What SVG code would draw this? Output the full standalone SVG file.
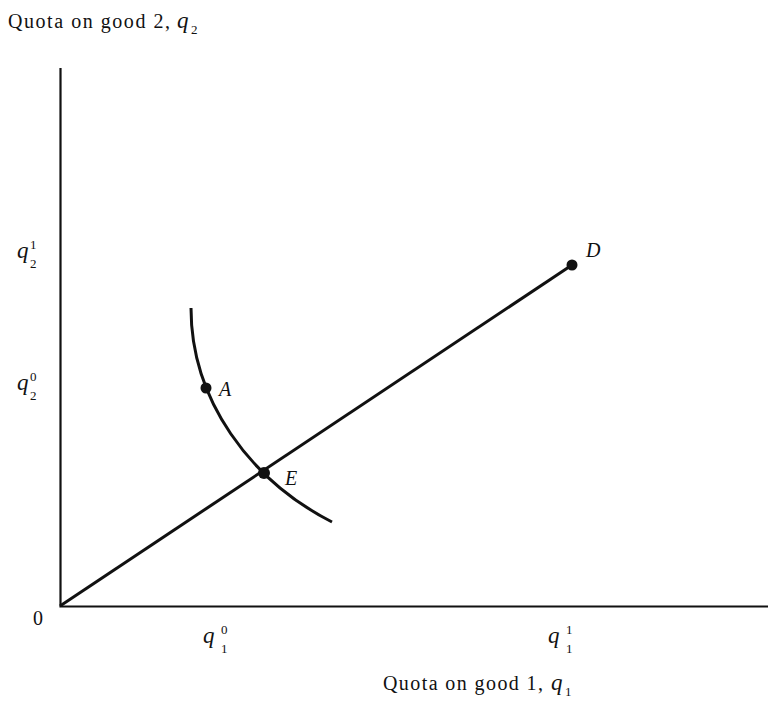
<svg xmlns="http://www.w3.org/2000/svg" width="770" height="702" viewBox="0 0 770 702">
<style>
.t{font-family:"Liberation Serif","Times New Roman",serif;font-size:20px;fill:#111}
.i{font-style:italic}
.q{font-style:italic;font-size:23px}
.s{font-size:13px}
.ln{fill:none;stroke:#111;stroke-width:3}
.ax{fill:none;stroke:#111;stroke-width:2.2}
</style>
<rect width="770" height="702" fill="#fff"/>
<g id="axes">
<path class="ax" d="M60.5,68 V606.5 H768"/>
</g>
<g id="connectors">
<path class="ln" d="M60,606 L572,265"/>
<path class="ln" d="M191,308 C191,400 250,480 332,522"/>
</g>
<g id="D"><circle cx="572" cy="265" r="5.5" fill="#111"/><text class="t i" x="586" y="257">D</text></g>
<g id="A"><circle cx="206" cy="388" r="5.5" fill="#111"/><text class="t i" x="219" y="396">A</text></g>
<g id="E"><circle cx="264" cy="473" r="6" fill="#111"/><text class="t i" x="285" y="485">E</text></g>
<g id="labels">
<text class="t" x="8" y="28" textLength="162" lengthAdjust="spacing">Quota on good 2,</text>
<text class="t q" x="177" y="28">q</text><text class="t s" x="191" y="34">2</text>
<text class="t" x="383" y="690" textLength="160" lengthAdjust="spacing">Quota on good 1,</text>
<text class="t q" x="551" y="690">q</text><text class="t s" x="565" y="696">1</text>
<text class="t" x="33" y="625">0</text>
<text class="t q" x="17" y="258">q</text><text class="t s" x="30" y="249">1</text><text class="t s" x="30" y="268">2</text>
<text class="t q" x="17" y="390">q</text><text class="t s" x="30" y="381">0</text><text class="t s" x="30" y="400">2</text>
<text class="t q" x="203" y="643">q</text><text class="t s" x="221" y="634">0</text><text class="t s" x="221" y="653">1</text>
<text class="t q" x="548" y="643">q</text><text class="t s" x="566" y="634">1</text><text class="t s" x="566" y="653">1</text>
</g>
</svg>
